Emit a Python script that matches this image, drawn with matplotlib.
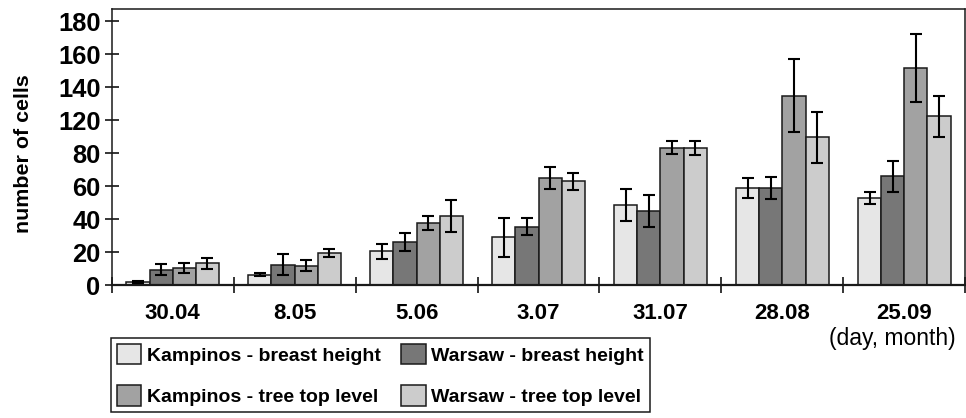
import matplotlib
matplotlib.use("Agg")
import matplotlib.pyplot as plt
import numpy as np

plt.rcParams['font.family'] = ['Liberation Sans', 'DejaVu Sans']

dates = ["30.04", "8.05", "5.06", "3.07", "31.07", "28.08", "25.09"]

kampinos_bh = [2, 6.5, 20.5, 29, 48.8, 59, 52.8]
kampinos_bh_err = [0.7, 1, 4.4, 12, 9.6, 6, 3.6]
warsaw_bh = [9.5, 12.5, 26, 35.5, 45, 59, 66]
warsaw_bh_err = [3.4, 6.3, 5.5, 5, 9.7, 6.6, 9.6]
kampinos_tt = [10.5, 12, 38, 65, 83.5, 115, 131.6]
kampinos_tt_err = [3, 3.2, 4.3, 6.7, 3.7, 22.2, 20.7]
warsaw_tt = [13.4, 19.5, 42, 63, 83.3, 89.7, 102.5]
warsaw_tt_err = [3.3, 2.5, 9.6, 5, 4.3, 15.4, 12.4]

ytick_pos = [0, 20, 40, 60, 80, 100, 120, 140, 160]
ytick_labels = ["0", "20", "40", "60", "80", "120", "140", "160", "180"]

series = [
    ("Kampinos - breast height", kampinos_bh, kampinos_bh_err, "#e6e6e6"),
    ("Warsaw - breast height", warsaw_bh, warsaw_bh_err, "#777777"),
    ("Kampinos - tree top level", kampinos_tt, kampinos_tt_err, "#a2a2a2"),
    ("Warsaw - tree top level", warsaw_tt, warsaw_tt_err, "#cccccc"),
]

fig = plt.figure(figsize=(9.66, 4.18), dpi=100)
ax = fig.add_axes([111.7 / 966, 1 - 285.3 / 418, 853.6 / 966, 276.3 / 418])

x = np.arange(len(dates))
w = 0.19
handles = {}
for i, (name, vals, errs, col) in enumerate(series):
    off = (i - 1.5) * w
    b = ax.bar(x + off, vals, width=w, color=col, edgecolor="#1a1a1a",
               linewidth=1.1, label=name, zorder=2)
    ax.errorbar(x + off, vals, yerr=errs, fmt="none", ecolor="black",
                elinewidth=1.5, capsize=4.2, capthick=1.5, zorder=3)
    handles[name] = b

ax.set_xlim(-0.5, 6.5)
ax.set_ylim(0, 167.5)

ax.set_yticks(ytick_pos)
ax.set_yticklabels(ytick_labels, fontsize=18.4, fontweight="bold")
ax.tick_params(axis="y", direction="inout", length=10, width=1.1, pad=3)

ax.set_xticks(np.arange(-0.5, 7.0, 1.0))
ax.set_xticklabels([])
ax.tick_params(axis="x", which="major", direction="inout", length=11, width=1.1)
ax.set_xticks(x, minor=True)
ax.set_xticklabels(dates, minor=True, fontsize=16, fontweight="bold")
ax.tick_params(axis="x", which="minor", length=0, pad=13)

for s in ax.spines.values():
    s.set_linewidth(1.1)
    s.set_color("#1a1a1a")
ax.spines["bottom"].set_linewidth(1.6)

fig.text(24 / 966, 1 - 154 / 418, "number of cells", rotation=90,
         ha="center", va="center", fontsize=15.4, fontweight="bold")
fig.text(892 / 966, 1 - 339 / 418, "(day, month)", ha="center", va="center",
         fontsize=16.5)

order = ["Kampinos - breast height", "Kampinos - tree top level",
         "Warsaw - breast height", "Warsaw - tree top level"]
leg = fig.legend([handles[n] for n in order], order, ncol=2,
                 loc="upper left", bbox_to_anchor=(111 / 966, 1 - 338 / 418),
                 bbox_transform=fig.transFigure, borderaxespad=0,
                 prop={"size": 14, "weight": "bold"},
                 handlelength=1.25, handleheight=1.25, handletextpad=0.3,
                 columnspacing=1.05, labelspacing=1.05, borderpad=0.3,
                 frameon=True, fancybox=False, framealpha=1)
leg.get_frame().set_edgecolor("#1a1a1a")
leg.get_frame().set_linewidth(1.1)

fig.savefig("out.png", dpi=100)
